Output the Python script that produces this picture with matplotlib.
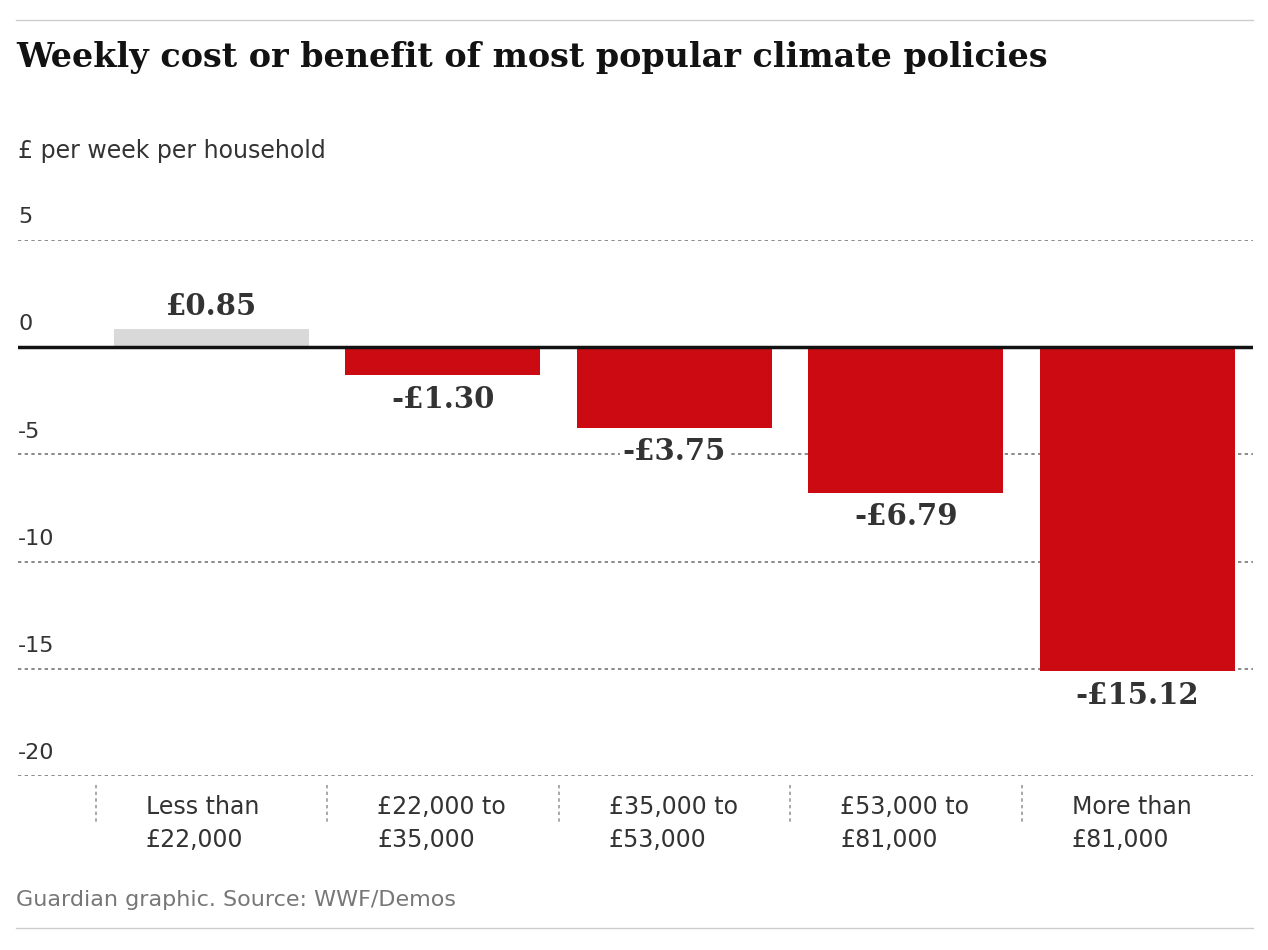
import matplotlib.pyplot as plt
from matplotlib.lines import Line2D

groups = ["Less than\n£22,000", "£22,000 to\n£35,000", "£35,000 to\n£53,000",
          "£53,000 to\n£81,000", "More than\n£81,000"]
values = [0.85, -1.30, -3.75, -6.79, -15.12]
labels = ["£0.85", "-£1.30", "-£3.75", "-£6.79", "-£15.12"]

W, H = 1268, 950
fig = plt.figure(figsize=(W / 100, H / 100), dpi=100)
ax = fig.add_axes([18 / W, 1 - 776 / H, 1235 / W, 536 / H])

colors = ["#d9d9d9" if v > 0 else "#cc0a11" for v in values]
x = list(range(len(values)))
ax.bar(x, values, width=0.842, color=colors, zorder=2)
ax.set_xlim(-0.835, 4.5)
ax.set_ylim(-20, 5)

for y in [5, -5, -10, -15, -20]:
    ax.axhline(y, color="#777777", lw=1.2, ls=(0, (2, 2)), zorder=1)
    ax.text(0, y + 0.6, str(y), transform=ax.get_yaxis_transform(),
            fontsize=16, color="#333333", va="bottom", ha="left")
ax.axhline(0, color="#121212", lw=2.5, zorder=3)
ax.text(0, 0.6, "0", transform=ax.get_yaxis_transform(),
        fontsize=16, color="#333333", va="bottom", ha="left")

serif = ["DejaVu Serif"]
for xi, v, lab in zip(x, values, labels):
    if v > 0:
        ax.text(xi, v + 0.35, lab, ha="center", va="bottom", fontsize=21,
                fontweight="bold", family=serif, color="#333333", zorder=4)
    else:
        ax.text(xi, v - 0.45, lab, ha="center", va="top", fontsize=21,
                fontweight="bold", family=serif, color="#333333", zorder=4,
                bbox=dict(facecolor="white", edgecolor="none", pad=2))

for spine in ax.spines.values():
    spine.set_visible(False)
ax.set_xticks([])
ax.set_yticks([])

# category labels and dividers
for xi, g in zip(x, groups):
    xd = ax.transData.transform((xi - 0.5, 0))[0] / W
    fig.add_artist(Line2D([xd, xd], [1 - 785 / H, 1 - 822 / H], color="#999999",
                          lw=1.2, ls=(0, (2, 2))))
    fig.text(xd + 50 / W, 1 - 795 / H, g, fontsize=17, color="#333333",
             va="top", ha="left", linespacing=1.45)

fig.text(16 / W, 1 - 58 / H, "Weekly cost or benefit of most popular climate policies",
         fontsize=24, fontweight="bold", family=serif, color="#121212", va="center")
fig.text(18 / W, 1 - 151 / H, "£ per week per household", fontsize=17,
         color="#333333", va="center")
fig.text(16 / W, 1 - 900 / H, "Guardian graphic. Source: WWF/Demos", fontsize=16,
         color="#777777", va="center")
for yy in [20, 928]:
    fig.add_artist(Line2D([16 / W, 1253 / W], [1 - yy / H] * 2, color="#cccccc", lw=1))

fig.savefig("out.png", dpi=100)
